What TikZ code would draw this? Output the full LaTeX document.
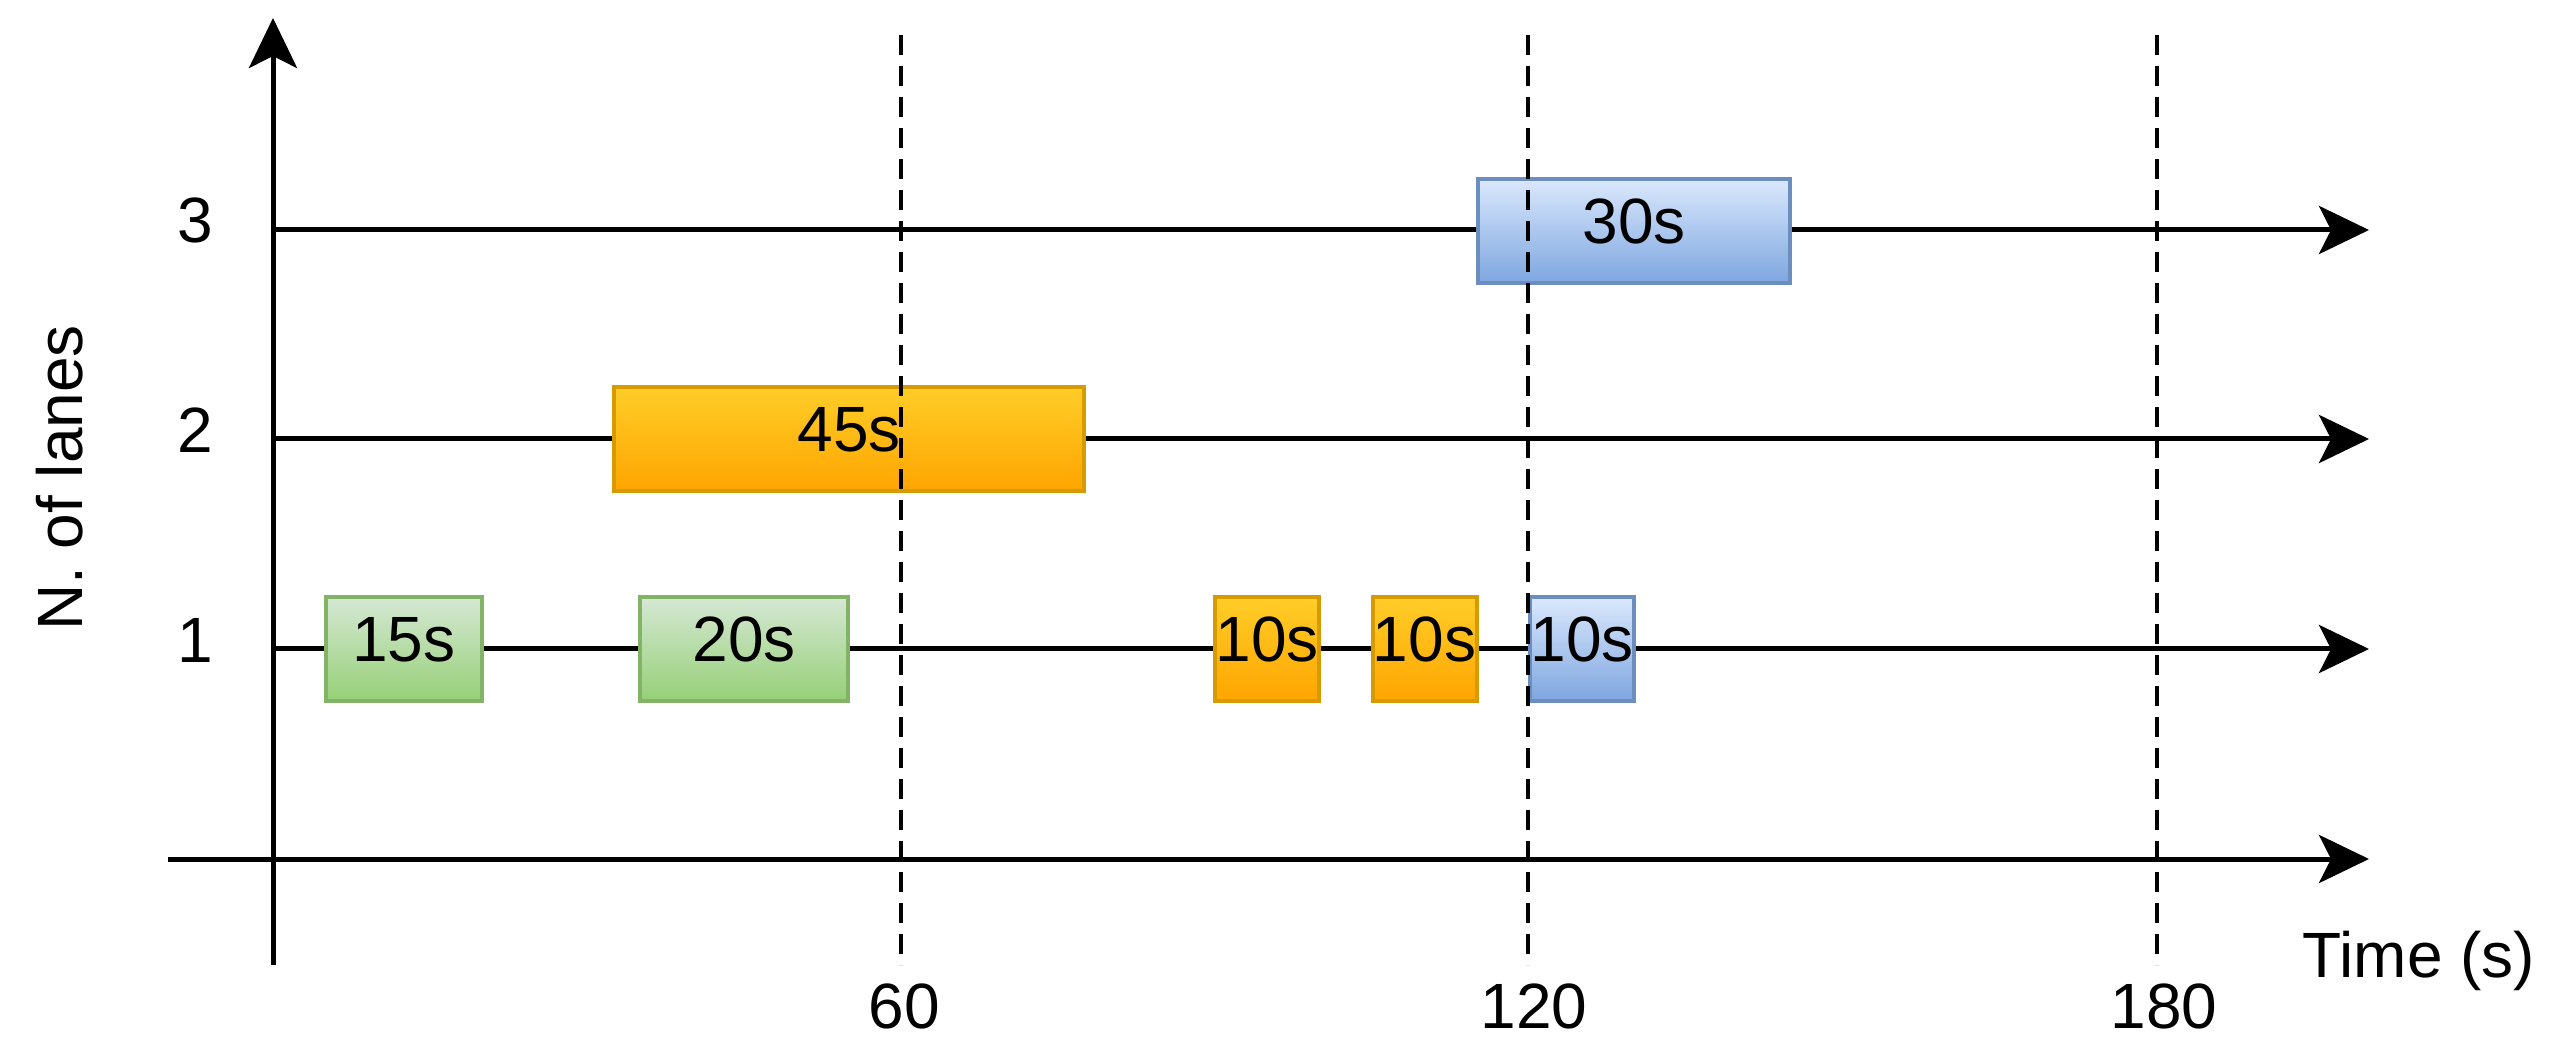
\documentclass[tikz,border=0pt]{standalone}
\usepackage{fontspec}
\setmainfont{Liberation Sans}
\usetikzlibrary{arrows.meta}
\definecolor{greenTop}{HTML}{D5E8D4}
\definecolor{greenBot}{HTML}{97D077}
\definecolor{greenLine}{HTML}{82B366}
\definecolor{orangeTop}{HTML}{FFCD28}
\definecolor{orangeBot}{HTML}{FFA500}
\definecolor{orangeLine}{HTML}{D79B00}
\definecolor{blueTop}{HTML}{DAE8FC}
\definecolor{blueBot}{HTML}{7EA6E0}
\definecolor{blueLine}{HTML}{6C8EBF}
\begin{document}
\begin{tikzpicture}[x=0.25pt,y=-0.25pt,
  arrowline/.style={line width=1.25pt,-{Stealth[length=12.5pt,width=12pt,inset=3pt]}},
  gridline/.style={line width=0.8pt,dash pattern=on 5pt off 2.75pt},
  txt/.style={font=\fontsize{16}{19}\selectfont,inner sep=0pt},
  taskbox/.style={draw,line width=1pt,minimum height=26pt,inner sep=0pt,
    text height=11.5pt,text depth=5pt,font=\fontsize{16}{19}\selectfont},
  greenbox/.style={taskbox,draw=greenLine,top color=greenTop,bottom color=greenBot},
  orangebox/.style={taskbox,draw=orangeLine,top color=orangeTop,bottom color=orangeBot},
  bluebox/.style={taskbox,draw=blueLine,top color=blueTop,bottom color=blueBot}
]
\useasboundingbox (0,0) rectangle (2565,1056);

% coordinates
\coordinate (yb) at (273,965);
\coordinate (yt) at (273,18);
\coordinate (xs) at (168,859);
\coordinate (xe) at (2369,859);
\coordinate (l1s) at (273,649);
\coordinate (l1e) at (2369,649);
\coordinate (l2s) at (273,439);
\coordinate (l2e) at (2369,439);
\coordinate (l3s) at (273,230);
\coordinate (l3e) at (2369,230);
\coordinate (g1t) at (901,35);
\coordinate (g1b) at (901,965);
\coordinate (g2t) at (1528,35);
\coordinate (g2b) at (1528,965);
\coordinate (g3t) at (2157,35);
\coordinate (g3b) at (2157,965);

% lane lines
\draw[arrowline] (l1s) -- (l1e);
\draw[arrowline] (l2s) -- (l2e);
\draw[arrowline] (l3s) -- (l3e);

% boxes
\node[greenbox,minimum width=39pt] (b15) at (404,649) {15s};
\node[greenbox,minimum width=52pt] (b20) at (744,649) {20s};
\node[orangebox,minimum width=26pt] (b10a) at (1267,649) {10s};
\node[orangebox,minimum width=26pt] (b10b) at (1424.5,649) {10s};
\node[bluebox,minimum width=26pt] (b10c) at (1582,649) {10s};
\node[orangebox,minimum width=117.5pt] (b45) at (849,439) {45s};
\node[bluebox,minimum width=78pt] (b30) at (1634,231) {30s};

% dashed time markers
\draw[gridline] (g1t) -- (g1b);
\draw[gridline] (g2t) -- (g2b);
\draw[gridline] (g3t) -- (g3b);

% axes
\draw[arrowline] (yb) -- (yt);
\draw[arrowline] (xs) -- (xe);

% labels
\node[txt,anchor=base] (n3) at (195,243) {3};
\node[txt,anchor=base] (n2) at (195,453) {2};
\node[txt,anchor=base] (n1) at (195,663) {1};
\node[txt,anchor=base,rotate=90] (ylab) at (82,478) {N. of lanes};
\node[txt,anchor=base west] (xlab) at (2302,977) {Time (s)};
\node[txt,anchor=base] (t60) at (904,1028) {60};
\node[txt,anchor=base] (t120) at (1534,1028) {120};
\node[txt,anchor=base] (t180) at (2164,1028) {180};
\end{tikzpicture}
\end{document}
